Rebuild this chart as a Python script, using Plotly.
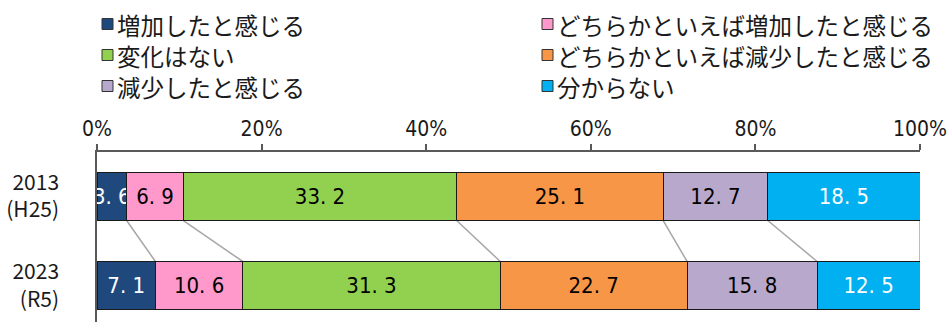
import plotly.graph_objects as go

years = ["2013<br>(H25)", "2023<br>(R5)"]
series_names = ["増加したと感じる", "どちらかといえば増加したと感じる", "変化はない",
                "どちらかといえば減少したと感じる", "減少したと感じる", "分からない"]
v_increase = [3.6, 7.1]
v_rather_increase = [6.9, 10.6]
v_nochange = [33.2, 31.3]
v_rather_decrease = [25.1, 22.7]
v_decrease = [12.7, 15.8]
v_unknown = [18.5, 12.5]
x_ticks = [0, 20, 40, 60, 80, 100]
x_ticklabels = ["0%", "20%", "40%", "60%", "80%", "100%"]

series_values = [v_increase, v_rather_increase, v_nochange, v_rather_decrease, v_decrease, v_unknown]
colors = ["#1F497D", "#FF99CC", "#92D050", "#F79646", "#B8A9CC", "#00B0F0"]
text_colors = ["white", "black", "black", "black", "black", "white"]

NUM_FONT = "Liberation Sans Narrow, DejaVu Sans Condensed, Roboto Condensed, Noto Sans CJK JP, sans-serif"
JP_FONT = "Noto Sans CJK JP, sans-serif"

W, H = 947, 322
L, R, T, B = 97, 27, 152, 0
PW, PH = W - L - R, H - T - B

fig = go.Figure()
for name, vals, c, tc in zip(series_names, series_values, colors, text_colors):
    fig.add_trace(go.Bar(
        y=years, x=vals, name=name, orientation="h",
        marker=dict(color=c, line=dict(color="#1a1a1a", width=1)),
        text=[f"{v:.1f}".replace(".", ". ") for v in vals],
        textposition="inside", insidetextanchor="middle", textangle=0,
        textfont=dict(color=tc, size=22, family=NUM_FONT),
        constraintext="none", width=0.54, cliponaxis=True, showlegend=False,
    ))

# connector lines between cumulative boundaries
half = 0.27
c0, c1 = 0.0, 0.0
for vals in series_values:
    c0 += vals[0]
    c1 += vals[1]
    fig.add_shape(type="line", xref="x", yref="y",
                  x0=c0, y0=0 + half, x1=c1, y1=1 - half,
                  line=dict(color="#A6A6A6", width=1.5), layer="below")

# manual legend (two columns)
def px2paper(px, py):
    return (px - L) / PW, (H - py) / PH

col_x = [107.5, 547.5]
row_y = [24, 55, 86]
for i, (name, c) in enumerate(zip(series_names, colors)):
    cx = col_x[i % 2]
    cy = row_y[i // 2]
    x0, y0 = px2paper(cx - 5.5, cy + 5.5)
    x1, y1 = px2paper(cx + 5.5, cy - 5.5)
    fig.add_shape(type="rect", xref="paper", yref="paper", x0=x0, y0=y0, x1=x1, y1=y1,
                  fillcolor=c, line=dict(color="#333333", width=1))
    tx, ty = px2paper(cx + 8, cy)
    fig.add_annotation(xref="paper", yref="paper", x=tx, y=ty, text=name, showarrow=False,
                       xanchor="left", yanchor="middle", height=29, borderpad=0,
                       font=dict(family=JP_FONT, size=23.5, color="#1a1a1a"))

fig.update_layout(
    width=W, height=H,
    margin=dict(l=L, r=R, t=T, b=B, autoexpand=False),
    barmode="stack",
    plot_bgcolor="white", paper_bgcolor="white",
    showlegend=False,
    xaxis=dict(side="top", range=[0, 100], tickvals=x_ticks, ticktext=x_ticklabels,
               showgrid=False, zeroline=False, showline=True, linecolor="#595959", linewidth=1.5,
               ticks="outside", ticklen=6, tickcolor="#595959", tickwidth=1.5,
               ticklabeloverflow="allow",
               tickfont=dict(family=NUM_FONT, size=21, color="#1a1a1a")),
    yaxis=dict(type="category", range=[1.41, -0.5], showgrid=False, zeroline=False,
               showline=True, linecolor="#595959", linewidth=1.5, ticks="",
               ticklabelstandoff=32, ticklabeloverflow="allow",
               tickfont=dict(family=JP_FONT, size=21, color="#1a1a1a")),
)

fig.write_html("out.html")
